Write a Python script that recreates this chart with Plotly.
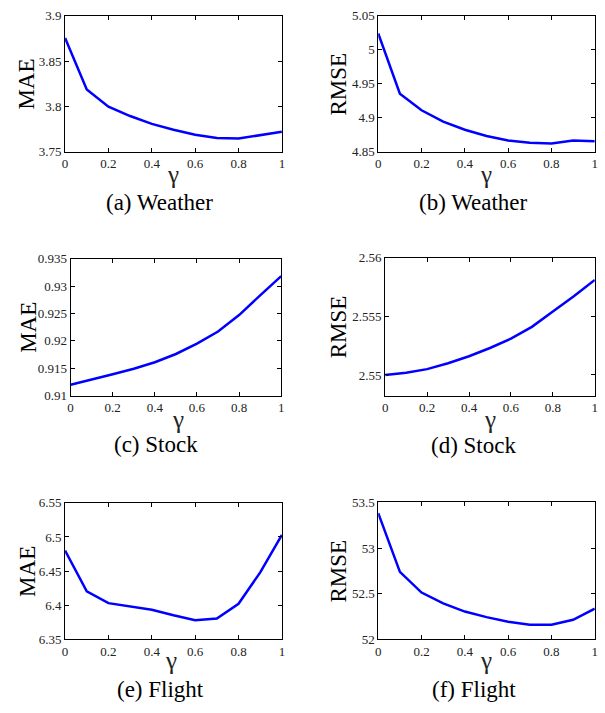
import plotly.graph_objects as go

# ---- data ----
gamma = [0.0, 0.1, 0.2, 0.3, 0.4, 0.5, 0.6, 0.7, 0.8, 0.9, 1.0]

weather_mae = [3.8756, 3.8189, 3.7999, 3.7895, 3.7809, 3.7744, 3.7690, 3.7654, 3.7647, 3.7687, 3.7722]
weather_rmse = [5.0242, 4.9355, 4.9112, 4.8945, 4.8825, 4.8734, 4.8667, 4.8634, 4.8624, 4.8667, 4.8658]
stock_mae = [0.9120, 0.9129, 0.9139, 0.9149, 0.9161, 0.9176, 0.9195, 0.9217, 0.9247, 0.9283, 0.9318]
stock_rmse = [2.5500, 2.5502, 2.5505, 2.5510, 2.5516, 2.5523, 2.5531, 2.5541, 2.5554, 2.5567, 2.5581]
flight_mae = [6.4801, 6.4203, 6.4031, 6.3988, 6.3935, 6.3854, 6.3782, 6.3806, 6.4022, 6.4481, 6.5031]
flight_rmse = [53.382, 52.739, 52.513, 52.395, 52.305, 52.244, 52.194, 52.161, 52.161, 52.215, 52.337]

x_tickvals = [0, 0.2, 0.4, 0.6, 0.8, 1]
x_ticktext = ["0", "0.2", "0.4", "0.6", "0.8", "1"]

y_ranges = [[3.75, 3.9], [4.85, 5.05], [0.91, 0.935], [2.54824, 2.56], [6.35, 6.55], [52, 53.5]]
y_tickvals = [
    [3.75, 3.8, 3.85, 3.9],
    [4.85, 4.9, 4.95, 5.0, 5.05],
    [0.91, 0.915, 0.92, 0.925, 0.93, 0.935],
    [2.55, 2.555, 2.56],
    [6.35, 6.4, 6.45, 6.5, 6.55],
    [52, 52.5, 53, 53.5],
]
y_ticktext = [
    ["3.75", "3.8", "3.85", "3.9"],
    ["4.85", "4.9", "4.95", "5", "5.05"],
    ["0.91", "0.915", "0.92", "0.925", "0.93", "0.935"],
    ["2.55", "2.555", "2.56"],
    ["6.35", "6.4", "6.45", "6.5", "6.55"],
    ["52", "52.5", "53", "53.5"],
]
metrics = ["MAE", "RMSE", "MAE", "RMSE", "MAE", "RMSE"]
captions = ["(a) Weather", "(b) Weather", "(c) Stock", "(d) Stock", "(e) Flight", "(f) Flight"]
series = [weather_mae, weather_rmse, stock_mae, stock_rmse, flight_mae, flight_rmse]

# ---- layout geometry (pixels) ----
W, H = 605, 713
boxes = [
    (62.7, 281.7, 9, 148),
    (379, 597.7, 9, 148),
    (68.3, 281, 257, 397),
    (386, 597.7, 256, 397),
    (62.7, 281.7, 506.5, 646),
    (379, 597.7, 506, 646),
]
ytitle_x = [24, 339, 25, 339, 24, 339]
gamma_pos = [(172, 171), (488, 171), (177, 421), (492, 421), (170, 668), (488, 668)]
caption_pos = [(158, 200), (475, 200), (155, 447), (475, 448), (159, 697), (476, 697)]

FONT = "Liberation Serif"

fig = go.Figure()
layout = dict(
    width=W, height=H,
    margin=dict(l=0, r=0, t=0, b=0),
    paper_bgcolor="white", plot_bgcolor="white",
    showlegend=False,
    font=dict(family=FONT, color="black"),
)
annotations = []
for i in range(6):
    n = "" if i == 0 else str(i + 1)
    x0, x1, yt, yb = boxes[i]
    fig.add_trace(go.Scatter(
        x=gamma, y=series[i], mode="lines",
        line=dict(color="rgb(0,0,255)", width=2.5),
        xaxis="x" + n, yaxis="y" + n,
    ))
    common = dict(
        showline=True, linecolor="black", linewidth=1, mirror="ticks",
        ticks="inside", ticklen=4, tickcolor="black", tickwidth=1,
        showgrid=False, zeroline=False, ticklabeloverflow="allow",
        tickfont=dict(family=FONT, size=13, color="#222"),
    )
    layout["xaxis" + n] = dict(
        domain=[x0 / W, x1 / W], range=[0, 1], anchor="y" + n,
        tickvals=x_tickvals, ticktext=x_ticktext, **common,
    )
    layout["yaxis" + n] = dict(
        domain=[1 - yb / H, 1 - yt / H], range=y_ranges[i], anchor="x" + n,
        tickvals=y_tickvals[i], ticktext=y_ticktext[i], **common,
    )
    ymid = (yt + yb) / 2
    annotations.append(dict(
        text=metrics[i], x=ytitle_x[i] / W, y=1 - ymid / H, xref="paper", yref="paper",
        xanchor="center", yanchor="middle", textangle=-90, showarrow=False,
        font=dict(family=FONT, size=23, color="black"),
    ))
    gx, gy = gamma_pos[i]
    annotations.append(dict(
        text="γ", x=gx / W, y=1 - gy / H, xref="paper", yref="paper",
        xanchor="center", yanchor="middle", showarrow=False,
        font=dict(family=FONT, size=25, color="#222"),
    ))
    cx, cy = caption_pos[i]
    annotations.append(dict(
        text=captions[i], x=cx / W, y=1 - cy / H, xref="paper", yref="paper",
        xanchor="center", yanchor="middle", showarrow=False,
        font=dict(family=FONT, size=23, color="black"),
    ))

layout["annotations"] = annotations
fig.update_layout(**layout)
fig.write_html(
    "out.html",
    config={"displayModeBar": False},
    post_script="document.body.style.margin='0px';document.body.style.padding='0px';",
)
